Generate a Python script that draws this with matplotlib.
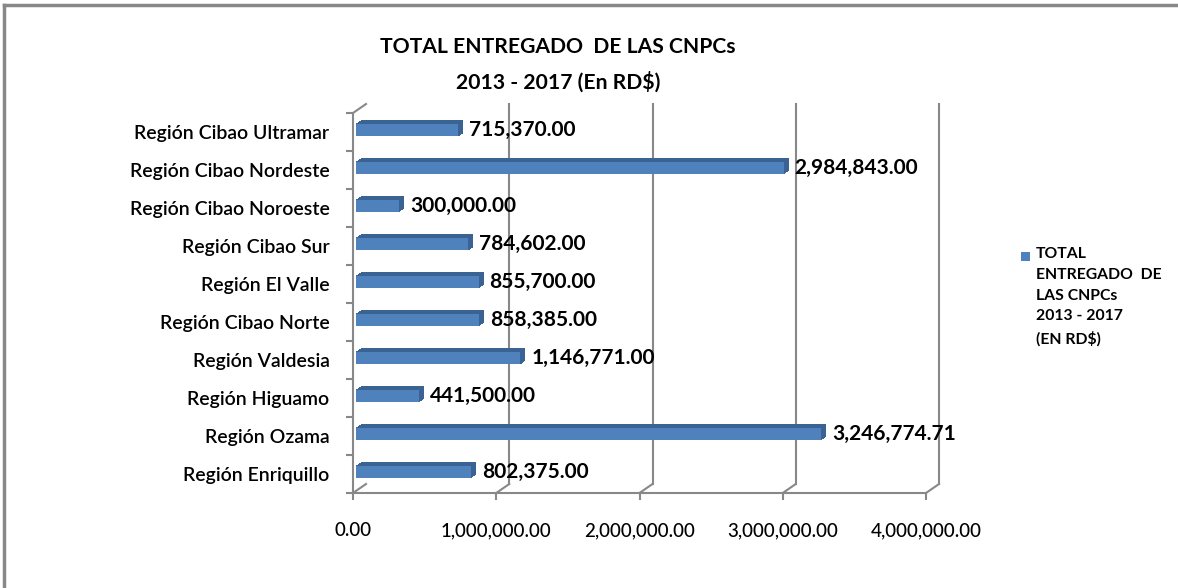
import matplotlib
matplotlib.use("Agg")
import matplotlib.pyplot as plt
from matplotlib.transforms import offset_copy
from matplotlib.lines import Line2D
from matplotlib.patches import Rectangle

# ---- data (bottom to top as drawn) ----
categories = ["Región Enriquillo", "Región Ozama", "Región Higuamo", "Región Valdesia",
              "Región Cibao Norte", "Región El Valle", "Región Cibao Sur",
              "Región Cibao Noroeste", "Región Cibao Nordeste", "Región Cibao Ultramar"]
values = [802375.00, 3246774.71, 441500.00, 1146771.00, 858385.00,
          855700.00, 784602.00, 300000.00, 2984843.00, 715370.00]
xticks = [0, 1000000, 2000000, 3000000, 4000000]
xtick_labels = ["0.00", "1,000,000.00", "2,000,000.00", "3,000,000.00", "4,000,000.00"]
title_lines = ["TOTAL ENTREGADO  DE LAS CNPCs", "2013 - 2017 (En RD$)"]
legend_label = "TOTAL\nENTREGADO  DE\nLAS CNPCs\n2013 - 2017\n(EN RD$)"

FONT = "Lato"
GRID = "#888888"
FRONT = "#4f81bd"
SIDE = "#3a6292"

fig = plt.figure(figsize=(11.78, 5.88), dpi=100)
W, H = 1178, 588
ax = fig.add_axes([353 / W, 95 / H, 573 / W, 380 / H])
ax.set_xlim(0, 4000000)
ax.set_ylim(-0.5, len(categories) - 0.5)
ax.patch.set_alpha(0)

# 3D wall offsets (pixels)
DX, DY = 13, 9
back = offset_copy(ax.transData, fig=fig, x=DX, y=DY, units="dots")
front = ax.transData
ytop = len(categories) - 0.5
ybot = -0.5

# back-wall gridlines
for t in xticks[1:]:
    ax.add_line(Line2D([t, t], [ybot, ytop], transform=back, color=GRID, lw=1.5, zorder=1, clip_on=False))
# floor diagonals and left-wall top diagonal, drawn in figure space
fig.canvas.draw()
inv = fig.transFigure.inverted()
for t in xticks:
    p0 = inv.transform(front.transform((t, ybot)))
    p1 = inv.transform(back.transform((t, ybot)))
    fig.add_artist(Line2D([p0[0], p1[0]], [p0[1], p1[1]], color=GRID, lw=1.5, zorder=1))
p0 = inv.transform(front.transform((0, ytop)))
p1 = inv.transform(back.transform((0, ytop)))
fig.add_artist(Line2D([p0[0], p1[0]], [p0[1], p1[1]], color=GRID, lw=1.5, zorder=1))

# axes spines (front floor + left wall)
for s in ["top", "right"]:
    ax.spines[s].set_visible(False)
for s in ["left", "bottom"]:
    ax.spines[s].set_color(GRID)
    ax.spines[s].set_linewidth(1.5)

ypos = list(range(len(categories)))
ax.set_yticks(ypos)
ax.set_yticklabels(categories, fontfamily=FONT, fontsize=14, fontweight="semibold")
ax.set_yticks([k - 0.5 for k in range(len(categories) + 1)], minor=True)
ax.tick_params(axis="y", which="major", length=0, pad=17)
ax.tick_params(axis="y", which="minor", length=5, width=1.5, color=GRID)
ax.set_xticks(xticks)
ax.set_xticklabels(xtick_labels, fontfamily=FONT, fontsize=13.5, fontweight="medium")
ax.tick_params(axis="x", which="major", length=5, width=1.5, color=GRID, pad=16)

# bars with extrusion
BH = 0.34
N = 12
for k in range(N, 0, -1):
    tr = offset_copy(ax.transData, fig=fig, x=3 + 5 * k / N, y=2 + 3.5 * k / N, units="dots")
    ax.barh(ypos, values, height=BH, color=SIDE, transform=tr, zorder=3, linewidth=0)
trf = offset_copy(ax.transData, fig=fig, x=3, y=2, units="dots")
ax.barh(ypos, values, height=BH, color=FRONT, transform=trf, zorder=4, linewidth=0)

# value labels
trl = offset_copy(ax.transData, fig=fig, x=14, y=2, units="dots")
for y, v in zip(ypos, values):
    ax.text(v, y, f"{v:,.2f}", transform=trl, ha="left", va="center",
            fontfamily=FONT, fontsize=15, fontweight="bold", zorder=5)

ax.set_xlim(0, 4000000)
ax.set_ylim(-0.5, len(categories) - 0.5)

# title
fig.text(558 / W, 1 - 47 / H, title_lines[0], ha="center", va="center",
         fontfamily=FONT, fontsize=15.2, fontweight="bold")
fig.text(558 / W, 1 - 82 / H, title_lines[1], ha="center", va="center",
         fontfamily=FONT, fontsize=15.2, fontweight="bold")

# legend (manual)
fig.add_artist(Rectangle((1021 / W, 1 - 261 / H), 9 / W, 9 / H, transform=fig.transFigure,
                         facecolor=FRONT, edgecolor="none"))
fig.text(1036 / W, 1 - 247 / H, legend_label, ha="left", va="top", fontfamily=FONT,
         fontsize=11.3, fontweight="bold", linespacing=1.62)

# figure frame (left & top edges visible)
fig.add_artist(Line2D([4 / W, 4 / W], [0, 1 - 5 / H], color=GRID, lw=2.5))
fig.add_artist(Line2D([4 / W, 1], [1 - 5 / H, 1 - 5 / H], color=GRID, lw=2.5))

fig.savefig("out.png", dpi=100)
